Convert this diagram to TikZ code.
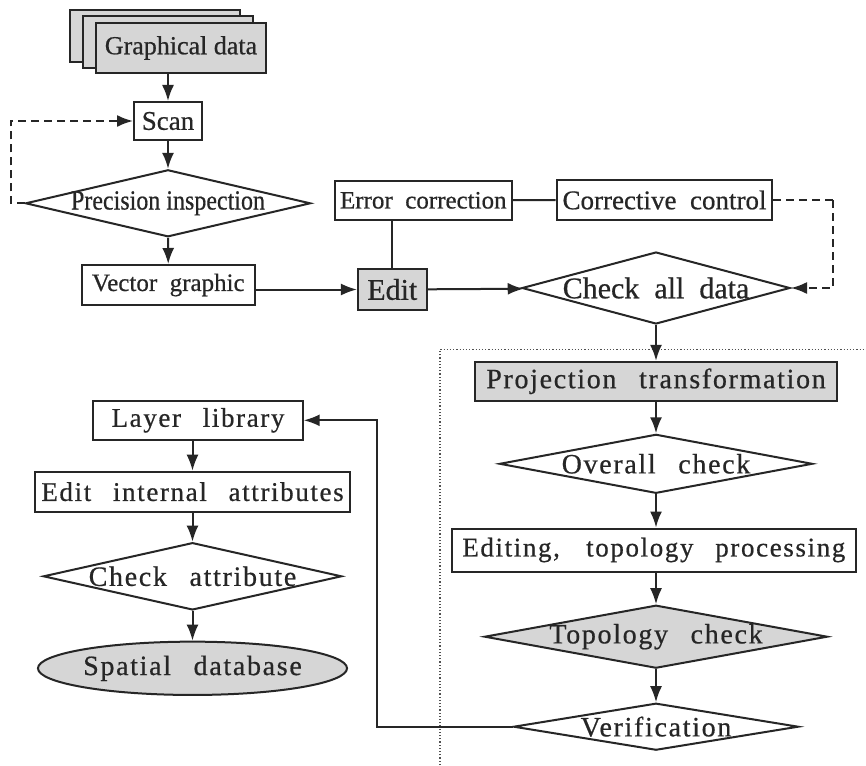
\documentclass[tikz,border=0pt]{standalone}
\usepackage{fontspec}
\setmainfont{Liberation Serif}[FakeBold=0.6]
\newfontfamily\spaced{Liberation Serif}[LetterSpace=6,WordSpace=2.6,FakeBold=0.6]
\newfontfamily\widespace{Liberation Serif}[WordSpace=2,FakeBold=0.6]
\usetikzlibrary{shapes.geometric,arrows.meta}
\definecolor{ink}{HTML}{262626}
\definecolor{shade}{HTML}{D6D6D6}
\newcommand{\fsz}[1]{\fontsize{#1}{#1}\selectfont}
\tikzset{
  base/.style={draw=ink, line width=2pt, inner sep=0pt, text=ink},
  boxnode/.style={base, rectangle},
  dianode/.style={base, diamond},
  ovalnode/.style={base, ellipse},
  grey/.style={fill=shade},
  conn/.style={draw=ink, line width=2pt},
  arr/.style={conn, -{Latex[length=16pt,width=12pt]}},
  darr/.style={arr, dash pattern=on 8pt off 5pt},
  dline/.style={conn, dash pattern=on 8pt off 5pt},
  every label/.style={text=ink, inner sep=0pt}
}
\begin{document}
\begin{tikzpicture}[x=1pt,y=-1pt]
\useasboundingbox[fill=white] (0,0) rectangle (866,765);

% stacked sheets of graphical data
\draw[base, grey] (70,10) rectangle (240,62);
\draw[base, grey] (83,16) rectangle (253,68);
\node[boxnode, grey, minimum width=170pt, minimum height=50pt, font=\fsz{26}] (gd) at (181,48) {Graphical data};

% digitising chain
\node[boxnode, minimum width=68pt, minimum height=38pt, font=\fsz{27}] (scan) at (168,121) {Scan};
\node[dianode, minimum width=285pt, minimum height=67pt,
  label={[font=\fsz{24}]center:\scalebox{1}[1.15]{Precision inspection}}] (pi) at (168,203.3) {};
\node[boxnode, minimum width=173pt, minimum height=40pt, font=\widespace\fsz{25}] (vg) at (168.3,285) {Vector graphic};
\node[boxnode, grey, minimum width=68.7pt, minimum height=41pt, font=\fsz{30}] (edit) at (392.3,289.5) {Edit};
\node[boxnode, minimum width=176.7pt, minimum height=39.3pt, font=\widespace\fsz{25}] (ec) at (423.3,200.3) {Error correction};
\node[boxnode, minimum width=215.6pt, minimum height=40pt, font=\widespace\fsz{27}] (cc) at (664.5,200) {Corrective control};
\node[dianode, minimum width=268pt, minimum height=72pt,
  label={[font=\widespace\fsz{30}]center:Check all data}] (cad) at (656,288) {};

% processing frame
\draw[ink!80, line width=1.2pt, dotted] (440,765) -- (440,349.3) -- (866,349.3);

\node[boxnode, grey, minimum width=362pt, minimum height=39pt, font=\spaced\fsz{28}] (proj) at (656,381.3) {Projection transformation};
\node[dianode, minimum width=313pt, minimum height=59pt,
  label={[font=\spaced\fsz{28}]center:Overall check}] (oc) at (656,463.8) {};
\node[boxnode, minimum width=404pt, minimum height=43pt, font=\spaced\fsz{27}] (etp) at (653.8,550) {Editing,\, topology processing};
\node[dianode, grey, minimum width=343pt, minimum height=63pt,
  label={[font=\spaced\fsz{28}]center:Topology check}] (tc) at (656,636.7) {};
\node[dianode, minimum width=285pt, minimum height=47pt,
  label={[font=\spaced\fsz{28}]center:Verification}] (ver) at (656,726.7) {};

% attribute chain
\node[boxnode, minimum width=209.4pt, minimum height=39.3pt, font=\spaced\fsz{27}] (ll) at (198,420.3) {Layer library};
\node[boxnode, minimum width=315pt, minimum height=40pt, font=\spaced\fsz{27}] (eia) at (192.5,491.7) {Edit internal attributes};
\node[dianode, minimum width=298.4pt, minimum height=67.3pt,
  label={[font=\spaced\fsz{28}]center:Check attribute}] (ca) at (192.5,576.3) {};
\node[ovalnode, grey, minimum width=281.6pt, minimum height=53.3pt, font=\spaced\fsz{28}] (sd) at (192.5,668.3) {Spatial database};

% connectors
\draw[arr] (gd.south -| scan.north) -- (scan.north);
\draw[arr] (scan) -- (pi);
\draw[arr] (pi) -- (vg);
\draw[darr] (pi.west) -- ++(-14,0) |- (scan.west);
\draw[arr] (vg.east |- edit.west) -- (edit.west);
\draw[conn] (edit.north) -- (edit.north |- ec.south);
\draw[conn] (ec) -- (cc);
\draw[arr] (edit) -- (cad);
\draw[dline] (cc.east) -- (832.7,200);
\draw[darr] (832.7,200) |- (cad.east);
\draw[arr] (cad) -- (proj);
\draw[arr] (proj) -- (oc);
\draw[arr] (oc) -- (oc |- etp.north);
\draw[arr] (oc |- etp.south) -- (tc);
\draw[arr] (tc) -- (ver);
\draw[arr] (ver.west) -- (376.7,726.7) |- (ll.east);
\draw[arr] (ll.south -| eia.north) -- (eia);
\draw[arr] (eia) -- (ca);
\draw[arr] (ca) -- (sd);
\end{tikzpicture}
\end{document}
